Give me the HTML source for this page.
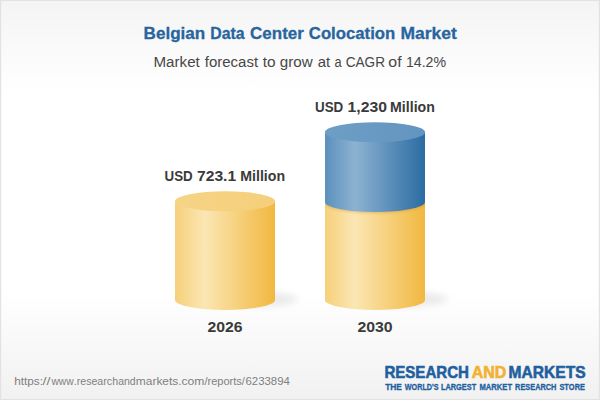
<!DOCTYPE html>
<html>
<head>
<meta charset="utf-8">
<title>Belgian Data Center Colocation Market</title>
<style>
  html, body { margin: 0; padding: 0; }
  body { width: 600px; height: 400px; overflow: hidden; background: #fff; font-family: "Liberation Sans", sans-serif; }
  svg { display: block; }
  text { font-family: "Liberation Sans", sans-serif; font-kerning: none; white-space: pre; }
</style>
</head>
<body>
<svg width="600" height="400" viewBox="0 0 600 400">
  <defs>
    <linearGradient id="bg" x1="0" y1="0" x2="0" y2="1">
      <stop offset="0" stop-color="#f4f4f4"/>
      <stop offset="0.23" stop-color="#ffffff"/>
      <stop offset="0.73" stop-color="#ffffff"/>
      <stop offset="1" stop-color="#f1f1f1"/>
    </linearGradient>
    <linearGradient id="ybody" x1="0" y1="0" x2="1" y2="0">
      <stop offset="0" stop-color="#f6d07a"/>
      <stop offset="0.295" stop-color="#fbe6b3"/>
      <stop offset="1" stop-color="#f1b840"/>
    </linearGradient>
    <linearGradient id="ytop" x1="0" y1="0" x2="1" y2="0">
      <stop offset="0" stop-color="#f6d486"/>
      <stop offset="1" stop-color="#f5cf7a"/>
    </linearGradient>
    <linearGradient id="bbody" x1="0" y1="0" x2="1" y2="0">
      <stop offset="0" stop-color="#5b90bd"/>
      <stop offset="0.3" stop-color="#8db2d1"/>
      <stop offset="1" stop-color="#2b6ca3"/>
    </linearGradient>
    <linearGradient id="btop" x1="0" y1="0" x2="1" y2="0">
      <stop offset="0" stop-color="#6e9ec5"/>
      <stop offset="1" stop-color="#6295c0"/>
    </linearGradient>
    <linearGradient id="jshade" x1="0" y1="0" x2="0" y2="1">
      <stop offset="0" stop-color="#b07a10" stop-opacity="0.28"/>
      <stop offset="1" stop-color="#b07a10" stop-opacity="0"/>
    </linearGradient>
    <filter id="blur" x="-20%" y="-60%" width="140%" height="220%">
      <feGaussianBlur stdDeviation="3.5"/>
    </filter>
    <filter id="blur2" x="-20%" y="-50%" width="140%" height="200%">
      <feGaussianBlur stdDeviation="1.5"/>
    </filter>
    <clipPath id="rclip"><path d="M325 202 L325 300 A50 10 0 0 0 425 300 L425 202 Z"/></clipPath>
  </defs>

  <!-- background + border -->
  <rect x="0" y="0" width="600" height="400" fill="#e2e2e2"/>
  <rect x="1.2" y="1" width="597.6" height="398" fill="url(#bg)"/>

  <!-- titles -->
  <text transform="translate(143.56 39.20) scale(1.0049 1)" font-size="17.0" font-weight="bold" fill="#27669f" stroke="#25639c" stroke-width="0.3">Belgian</text>
  <text transform="translate(210.24 39.20) scale(0.9325 1)" font-size="17.0" font-weight="bold" fill="#27669f" stroke="#25639c" stroke-width="0.3">Data</text>
  <text transform="translate(250.10 39.20) scale(0.9982 1)" font-size="17.0" font-weight="bold" fill="#27669f" stroke="#25639c" stroke-width="0.3">Center</text>
  <text transform="translate(308.81 39.20) scale(0.9840 1)" font-size="17.0" font-weight="bold" fill="#27669f" stroke="#25639c" stroke-width="0.3">Colocation</text>
  <text transform="translate(400.53 39.20) scale(1.0289 1)" font-size="17.0" font-weight="bold" fill="#27669f" stroke="#25639c" stroke-width="0.3">Market</text>
  <text transform="translate(153.46 67.20) scale(0.9979 1)" font-size="15.2" fill="#474747">Market</text>
  <text transform="translate(204.79 67.20) scale(0.9862 1)" font-size="15.2" fill="#474747">forecast</text>
  <text transform="translate(262.77 67.20) scale(1.0162 1)" font-size="15.2" fill="#474747">to</text>
  <text transform="translate(279.86 67.20) scale(0.9986 1)" font-size="15.2" fill="#474747">grow</text>
  <text transform="translate(317.67 67.20) scale(0.9816 1)" font-size="15.2" fill="#474747">at</text>
  <text transform="translate(334.45 67.20) scale(0.8453 1)" font-size="15.2" fill="#474747">a</text>
  <text transform="translate(345.71 67.20) scale(0.8954 1)" font-size="15.2" fill="#474747">CAGR</text>
  <text transform="translate(388.33 67.20) scale(1.0447 1)" font-size="15.2" fill="#474747">of</text>
  <text transform="translate(405.92 67.20) scale(0.9324 1)" font-size="15.2" fill="#474747">14.2%</text>

  <!-- shadows -->
  <ellipse cx="259" cy="299" rx="39" ry="7.5" fill="#000" opacity="0.075" filter="url(#blur)"/>
  <ellipse cx="409" cy="299" rx="39" ry="7.5" fill="#000" opacity="0.075" filter="url(#blur)"/>

  <!-- left cylinder -->
  <path d="M175 201.3 L175 300 A50 10 0 0 0 275 300 L275 201.3 Z" fill="url(#ybody)"/>
  <ellipse cx="225" cy="201.3" rx="50" ry="10" fill="url(#ytop)"/>

  <!-- right cylinder -->
  <path d="M325 202 L325 300 A50 10 0 0 0 425 300 L425 202 Z" fill="url(#ybody)"/>
  <g clip-path="url(#rclip)">
    <path d="M315 180 L315 203 L325 203 A50 10 0 0 0 425 203 L435 203 L435 180 Z" fill="#a8700a" opacity="0.30" filter="url(#blur2)"/>
  </g>
  <path d="M325 132.2 L325 202 A50 10 0 0 0 425 202 L425 132.2 Z" fill="url(#bbody)"/>
  <ellipse cx="375" cy="132.2" rx="50" ry="10" fill="url(#btop)"/>

  <!-- value labels -->
  <text transform="translate(164.50 180.70) scale(0.8718 1)" font-size="15.3" font-weight="bold" fill="#3a3a3a">USD</text>
  <text transform="translate(196.92 180.70) scale(1.0268 1)" font-size="15.3" font-weight="bold" fill="#3a3a3a">723.1</text>
  <text transform="translate(240.25 180.70) scale(0.9254 1)" font-size="15.3" font-weight="bold" fill="#3a3a3a">Million</text>
  <text transform="translate(315.00 111.70) scale(0.8750 1)" font-size="15.3" font-weight="bold" fill="#3a3a3a">USD</text>
  <text transform="translate(347.51 111.70) scale(1.0301 1)" font-size="15.3" font-weight="bold" fill="#3a3a3a">1,230</text>
  <text transform="translate(390.05 111.70) scale(0.9254 1)" font-size="15.3" font-weight="bold" fill="#3a3a3a">Million</text>

  <!-- year labels -->
  <text transform="translate(207.45 332.10) scale(1.0318 1)" font-size="15.3" font-weight="bold" fill="#3a3a3a">2026</text>
  <text transform="translate(357.45 332.10) scale(1.0341 1)" font-size="15.3" font-weight="bold" fill="#3a3a3a">2030</text>

  <!-- footer -->
  <text transform="translate(14.18 385.00) scale(1.0364 1)" font-size="11.4" fill="#808080">https:</text>
  <text transform="translate(42.60 385.00) scale(1.2629 1)" font-size="11.4" fill="#808080">//</text>
  <text transform="translate(51.42 385.00) scale(0.9016 1)" font-size="11.4" fill="#808080">www.</text>
  <text transform="translate(76.69 385.00) scale(0.9334 1)" font-size="11.4" fill="#808080">research</text>
  <text transform="translate(118.15 385.00) scale(0.9213 1)" font-size="11.4" fill="#808080">and</text>
  <text transform="translate(135.81 385.00) scale(1.0499 1)" font-size="11.4" fill="#808080">markets.</text>
  <text transform="translate(181.48 385.00) scale(1.0640 1)" font-size="11.4" fill="#808080">com</text>
  <text transform="translate(204.40 385.00) scale(0.9709 1)" font-size="11.4" fill="#808080">/reports/</text>
  <text transform="translate(245.42 385.00) scale(1.0030 1)" font-size="11.4" fill="#808080">6233894</text>
  <text transform="translate(384.39 377.60) scale(0.9484 1)" font-size="15.9" font-weight="bold" fill="#1e5fa0" stroke="#1e5fa0" stroke-width="0.55">RESEARCH</text>
  <text transform="translate(471.70 377.60) scale(1.0065 1)" font-size="15.9" font-weight="bold" fill="#f2b12e" stroke="#f2b12e" stroke-width="0.55">AND</text>
  <text transform="translate(508.56 377.60) scale(0.9801 1)" font-size="15.9" font-weight="bold" fill="#1e5fa0" stroke="#1e5fa0" stroke-width="0.55">MARKETS</text>
  <text transform="translate(385.21 389.90) scale(0.9836 1)" font-size="8.5" font-weight="bold" fill="#1e5fa0" stroke="#1e5fa0" stroke-width="0.3">THE</text>
  <text transform="translate(404.79 389.90) scale(0.8491 1)" font-size="8.5" font-weight="bold" fill="#1e5fa0" stroke="#1e5fa0" stroke-width="0.3">WORLD'S</text>
  <text transform="translate(440.90 389.90) scale(0.8711 1)" font-size="8.5" font-weight="bold" fill="#1e5fa0" stroke="#1e5fa0" stroke-width="0.3">LARGEST</text>
  <text transform="translate(479.49 389.90) scale(0.8964 1)" font-size="8.5" font-weight="bold" fill="#1e5fa0" stroke="#1e5fa0" stroke-width="0.3">MARKET</text>
  <text transform="translate(515.11 389.90) scale(0.8677 1)" font-size="8.5" font-weight="bold" fill="#1e5fa0" stroke="#1e5fa0" stroke-width="0.3">RESEARCH</text>
  <text transform="translate(559.39 389.90) scale(0.8744 1)" font-size="8.5" font-weight="bold" fill="#1e5fa0" stroke="#1e5fa0" stroke-width="0.3">STORE</text>
</svg>
</body>
</html>
